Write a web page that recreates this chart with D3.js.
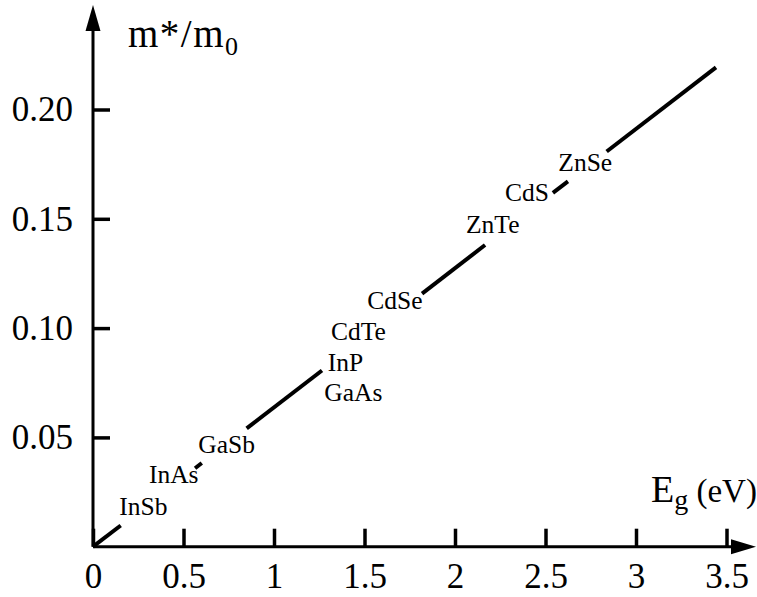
<!DOCTYPE html>
<html>
<head>
<meta charset="utf-8">
<script src="https://cdn.jsdelivr.net/npm/d3@7/dist/d3.min.js"></script>
<style>
  html, body { margin: 0; padding: 0; background: #fff; }
  svg { display: block; }
  text { font-family: "Liberation Serif", "DejaVu Serif", serif; fill: #000; }
</style>
</head>
<body>
<svg id="chart" width="757" height="597"></svg>
<script>
// Tick values and labels
const xTicks = [0, 0.5, 1, 1.5, 2, 2.5, 3, 3.5];
const xTickLabels = ["0", "0.5", "1", "1.5", "2", "2.5", "3", "3.5"];
const yTicks = [0.05, 0.10, 0.15, 0.20];
const yTickLabels = ["0.05", "0.10", "0.15", "0.20"];

// Visible pieces of the m*/m0 vs Eg line (gaps leave room for the labels)
const segStartEg = [0, 0.564, 0.849, 1.818, 2.541, 2.838];
const segStartM  = [0, 0.0359, 0.0541, 0.1158, 0.1619, 0.1808];
const segEndEg   = [0.153, 0.601, 1.265, 2.166, 2.624, 3.442];
const segEndM    = [0.0097, 0.0383, 0.0806, 0.1380, 0.1671, 0.2193];

// Semiconductor names and where they sit (Eg, m*/m0)
const materials = ["InSb", "InAs", "GaSb", "InP", "GaAs", "CdTe", "CdSe", "ZnTe", "CdS", "ZnSe"];
const labelEg = [0.145, 0.309, 0.582, 1.297, 1.278, 1.315, 1.515, 2.061, 2.276, 2.571];
const labelM  = [0.0145, 0.0293, 0.0427, 0.0806, 0.0668, 0.0946, 0.1087, 0.1435, 0.1583, 0.1720];

const svg = d3.select("#chart");

const x = d3.scaleLinear().domain([0, 3.5]).range([93, 726.5]);
const y = d3.scaleLinear().domain([0, 0.2]).range([546.7, 109.5]);

const x0 = x(0), y0 = y(0);

// Axis lines with arrowheads
svg.append("line")
  .attr("x1", x0).attr("y1", y0).attr("x2", x0).attr("y2", 26)
  .attr("stroke", "#000").attr("stroke-width", 3);
svg.append("path")
  .attr("d", `M${x0},5 L${x0 - 7.5},31 L${x0 + 7.5},31 Z`)
  .attr("fill", "#000");

svg.append("line")
  .attr("x1", x0).attr("y1", y0).attr("x2", 740).attr("y2", y0)
  .attr("stroke", "#000").attr("stroke-width", 3);
svg.append("path")
  .attr("d", `M756,${y0} L731,${y0 - 7.5} L731,${y0 + 7.5} Z`)
  .attr("fill", "#000");

// X axis ticks (pointing up) and labels
const xAxis = d3.axisBottom(x)
  .tickValues(xTicks)
  .tickFormat((d, i) => xTickLabels[i])
  .tickSizeInner(-18)
  .tickSizeOuter(0)
  .tickPadding(16);
const gx = svg.append("g").attr("transform", `translate(0,${y0})`).call(xAxis);
gx.select(".domain").remove();
gx.selectAll(".tick line").attr("stroke", "#000").attr("stroke-width", 3.5);
gx.selectAll(".tick text")
  .attr("font-size", 35)
  .attr("font-family", "Liberation Serif, serif")
  .attr("fill", "#000");

// Y axis ticks (pointing right) and labels
const yAxis = d3.axisLeft(y)
  .tickValues(yTicks)
  .tickFormat((d, i) => yTickLabels[i])
  .tickSizeInner(-17)
  .tickSizeOuter(0)
  .tickPadding(20);
const gy = svg.append("g").attr("transform", `translate(${x0},0)`).call(yAxis);
gy.select(".domain").remove();
gy.selectAll(".tick line").attr("stroke", "#000").attr("stroke-width", 3.5);
gy.selectAll(".tick text")
  .attr("font-size", 35)
  .attr("font-family", "Liberation Serif, serif")
  .attr("fill", "#000");

// The line pieces
svg.append("g").selectAll("line")
  .data(segStartEg.map((d, i) => i))
  .join("line")
  .attr("x1", i => x(segStartEg[i]))
  .attr("y1", i => y(segStartM[i]))
  .attr("x2", i => x(segEndEg[i]))
  .attr("y2", i => y(segEndM[i]))
  .attr("stroke", "#000")
  .attr("stroke-width", 4);

// Material labels
svg.append("g").selectAll("text")
  .data(materials)
  .join("text")
  .attr("x", (d, i) => x(labelEg[i]))
  .attr("y", (d, i) => y(labelM[i]))
  .attr("font-size", 25.5)
  .text(d => d);

// Axis titles
const yTitle = svg.append("text")
  .attr("x", 128)
  .attr("y", 47)
  .attr("font-size", 39)
  .attr("letter-spacing", 1.5);
yTitle.append("tspan").text("m*/m");
yTitle.append("tspan").attr("font-size", 26).attr("dy", 8).text("0");

const xTitle = svg.append("text")
  .attr("x", 651)
  .attr("y", 502)
  .attr("font-size", 33);
xTitle.append("tspan").attr("font-size", 38).text("E");
xTitle.append("tspan").attr("font-size", 28).attr("dy", 7).text("g");
xTitle.append("tspan").attr("dy", -7).text(" (eV)");
</script>
</body>
</html>
